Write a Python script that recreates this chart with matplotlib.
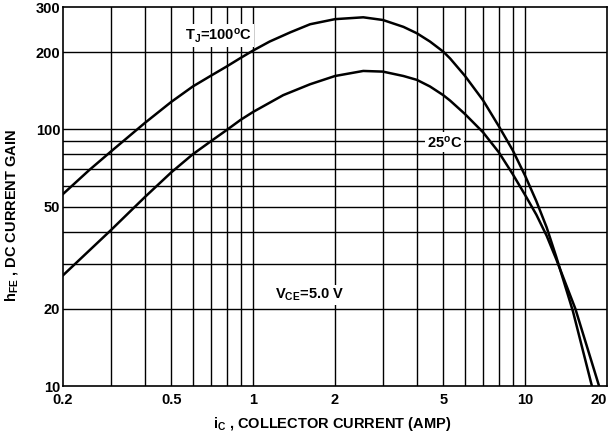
import matplotlib
matplotlib.use("Agg")
import matplotlib.pyplot as plt
import numpy as np

plt.rcParams['font.family'] = ['Liberation Sans', 'DejaVu Sans']
plt.rcParams['font.weight'] = 'bold'
plt.rcParams['mathtext.fontset'] = 'custom'
plt.rcParams['mathtext.rm'] = 'Liberation Sans:bold'
plt.rcParams['mathtext.default'] = 'rm'

# values
ic_100 = [0.2, 0.25, 0.3, 0.4, 0.5, 0.6, 0.7, 0.8, 0.9, 1, 1.15, 1.37, 1.62, 2, 2.54, 3, 3.57, 4,
          4.47, 5, 5.3, 6, 7, 8, 9, 10, 11, 12, 13, 15, 17.6]
hfe_100 = [56, 69.5, 82, 106, 128, 147, 162, 176, 190, 203, 220, 239, 257, 269, 273.5, 267, 251, 237,
           220, 201, 189, 162, 130, 103, 83, 66, 52.5, 41.5, 32, 19.5, 10]
ic_25 = [0.2, 0.3, 0.4, 0.5, 0.6, 0.7, 0.8, 0.9, 1, 1.29, 1.62, 2, 2.54, 3, 3.57, 4, 4.47, 5, 5.3,
         6, 7, 8, 9, 10, 11, 12, 13, 15.3, 18.7]
hfe_25 = [27, 40.5, 54.5, 68, 80, 90, 99.5, 109, 117, 136, 150, 161.5, 169, 168, 161.5, 156, 147, 136, 129.5,
          115, 97.5, 81.5, 67, 55.5, 46.5, 38.5, 31.3, 20, 10]

xticks = [0.2, 0.5, 1, 2, 5, 10, 20]
xticklabels = ['0.2', '0.5', '1', '2', '5', '10', '20']
yticks = [10, 20, 50, 100, 200, 300]
yticklabels = ['10', '20', '50', '100', '200', '300']
xgrid = [0.3, 0.4, 0.5, 0.6, 0.7, 0.8, 0.9, 1, 2, 3, 4, 5, 6, 7, 8, 9, 10]
ygrid = [20, 30, 40, 50, 60, 70, 80, 90, 100, 200]

fig = plt.figure(figsize=(6.11, 4.4), dpi=100)
ax = fig.add_axes([63/611., 54/440., 544/611., 379/440.])

for g in xgrid:
    ax.axvline(g, color='k', lw=1.0, zorder=1)
for g in ygrid:
    ax.axhline(g, color='k', lw=1.0, zorder=1)

ax.plot(ic_100, hfe_100, color='k', lw=1.8, zorder=3, solid_joinstyle='round')
ax.plot(ic_25, hfe_25, color='k', lw=1.8, zorder=3, solid_joinstyle='round')

ax.set_xscale('log')
ax.set_yscale('log')
ax.set_xlim(0.2, 20)
ax.set_ylim(10, 300)
ax.set_xticks(xticks)
ax.set_xticklabels(xticklabels)
ax.set_yticks(yticks)
ax.set_yticklabels(yticklabels)
ax.minorticks_off()
ax.tick_params(length=0, labelsize=10.5, pad=5)
ax.tick_params(axis='y', pad=2)
# keep the last x label inside the picture
ax.get_xticklabels()[-1].set_horizontalalignment('right')
for s in ax.spines.values():
    s.set_linewidth(1.2)
    s.set_color('k')

box = dict(facecolor='white', edgecolor='none', pad=1.5)
ax.text(0.56, 232, 'T$_{J}$=100$^{o}$C', fontsize=10.5, ha='left', va='center', bbox=box, zorder=4)
ax.text(4.36, 89, '25$^{o}$C', fontsize=10.5, ha='left', va='center', bbox=box, zorder=4)
ax.text(1.2, 22.6, 'V$_{CE}$=5.0 V', fontsize=10.5, ha='left', va='center', bbox=box, zorder=4)

fig.text(12/611., 1 - 215/440., 'h$_{FE}$ , DC CURRENT GAIN', rotation=90, fontsize=10.5,
         ha='center', va='center')
fig.text(332/611., 1 - 424/440., 'i$_{C}$ , COLLECTOR CURRENT (AMP)', fontsize=10.5,
         ha='center', va='center')

plt.savefig('out.png', dpi=100)
